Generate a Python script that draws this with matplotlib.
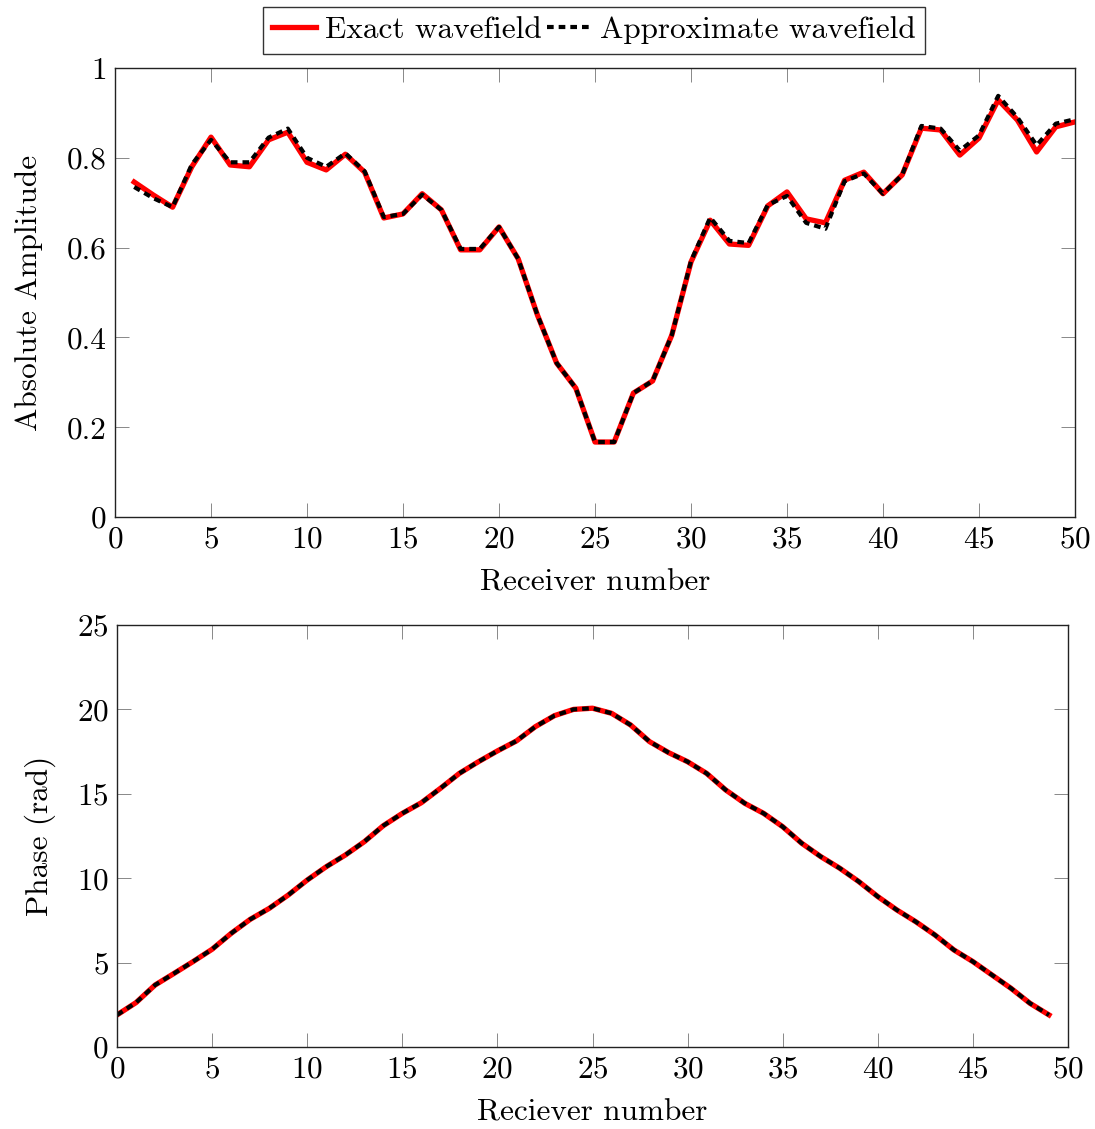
import numpy as np
import matplotlib
matplotlib.use("Agg")
import matplotlib.pyplot as plt
from matplotlib.ticker import FuncFormatter, MultipleLocator

plt.rcParams['font.family'] = ['cmr10', 'DejaVu Serif']
plt.rcParams['mathtext.fontset'] = 'cm'
plt.rcParams['axes.formatter.use_mathtext'] = True
plt.rcParams['lines.scale_dashes'] = False

# receiver amplitudes (exact vs approximate)
receivers = np.arange(1, 51)
amp_exact = [0.746, 0.717, 0.690, 0.780, 0.846, 0.784, 0.780, 0.840, 0.857, 0.790,
             0.773, 0.808, 0.768, 0.666, 0.675, 0.720, 0.684, 0.595, 0.595, 0.646,
             0.575, 0.450, 0.343, 0.287, 0.167, 0.167, 0.276, 0.303, 0.405, 0.568,
             0.661, 0.608, 0.605, 0.693, 0.724, 0.664, 0.655, 0.750, 0.768, 0.720,
             0.762, 0.866, 0.862, 0.806, 0.844, 0.929, 0.884, 0.813, 0.869, 0.880]
amp_approx = [0.735, 0.710, 0.690, 0.785, 0.840, 0.790, 0.790, 0.845, 0.865, 0.800,
              0.780, 0.810, 0.770, 0.668, 0.675, 0.718, 0.684, 0.597, 0.597, 0.646,
              0.575, 0.450, 0.343, 0.287, 0.167, 0.167, 0.276, 0.303, 0.405, 0.570,
              0.667, 0.615, 0.610, 0.695, 0.715, 0.655, 0.642, 0.748, 0.765, 0.720,
              0.762, 0.871, 0.865, 0.816, 0.850, 0.938, 0.890, 0.828, 0.876, 0.886]

# phase along the receiver line
phase_receivers = np.arange(0, 50)
phase_exact = [1.90, 2.63, 3.67, 4.36, 5.06, 5.79, 6.73, 7.56, 8.21, 9.00,
               9.89, 10.68, 11.37, 12.16, 13.11, 13.84, 14.47, 15.32, 16.21, 16.90,
               17.54, 18.13, 18.98, 19.63, 20.00, 20.07, 19.77, 19.08, 18.09, 17.44,
               16.90, 16.21, 15.23, 14.44, 13.84, 13.05, 12.07, 11.28, 10.59, 9.80,
               8.91, 8.12, 7.42, 6.64, 5.75, 5.06, 4.27, 3.48, 2.59, 1.90]
phase_approx = phase_exact

fs = 22.5
red_kw = dict(color='#ff0000', lw=3.8)
black_kw = dict(color='black', lw=3.0, dashes=(4.8, 3.6))

fig = plt.figure(figsize=(10.95, 11.29), dpi=100)
W, H = 1095, 1129
ax1 = fig.add_axes([115 / W, 1 - 517 / H, 960 / W, 449 / H])
ax2 = fig.add_axes([117 / W, 1 - 1047 / H, 951 / W, 422 / H])


def style(ax):
    for s in ax.spines.values():
        s.set_linewidth(1.0)
        s.set_color('#222222')
    ax.tick_params(direction='in', length=10, width=0.7, color='#888888',
                   top=True, right=True, labelsize=fs, pad=6)


l1, = ax1.plot(receivers, amp_exact, **red_kw)
l2, = ax1.plot(receivers, amp_approx, **black_kw)
ax1.set_xlim(0, 50)
ax1.set_ylim(0, 1)
ax1.xaxis.set_major_locator(MultipleLocator(5))
ax1.yaxis.set_major_locator(MultipleLocator(0.2))
ax1.yaxis.set_major_formatter(FuncFormatter(lambda v, p: '%g' % round(v, 2)))
ax1.set_xlabel('Receiver number', fontsize=fs, labelpad=11)
ax1.set_ylabel('Absolute Amplitude', fontsize=fs, labelpad=17)
style(ax1)

ax2.plot(phase_receivers, phase_exact, **red_kw)
ax2.plot(phase_receivers, phase_approx, **black_kw)
ax2.set_xlim(0, 50)
ax2.set_ylim(0, 25)
ax2.xaxis.set_major_locator(MultipleLocator(5))
ax2.yaxis.set_major_locator(MultipleLocator(5))
ax2.set_xlabel('Reciever number', fontsize=fs, labelpad=11)
ax2.set_ylabel('Phase (rad)', fontsize=fs, labelpad=15)
style(ax2)

leg = fig.legend([l1, l2], ['Exact wavefield', 'Approximate wavefield'],
                 loc='upper center', bbox_to_anchor=(594 / W, 1 - 7 / H),
                 ncol=2, fontsize=fs, frameon=True, fancybox=False,
                 edgecolor='black', handlelength=1.4, handletextpad=0.3,
                 columnspacing=0.15, borderpad=0.3, borderaxespad=0)
leg.get_frame().set_linewidth(1.0)

fig.savefig('out.png', dpi=100)
